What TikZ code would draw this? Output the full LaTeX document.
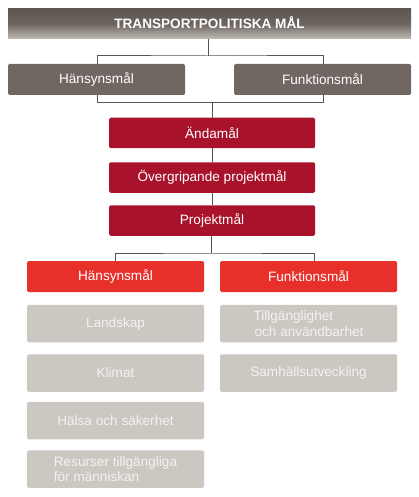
\documentclass[tikz,border=0pt]{standalone}
\usepackage{fontspec}
\setmainfont{Liberation Sans}
\definecolor{dgray}{HTML}{706762}
\definecolor{dred}{HTML}{A8132B}
\definecolor{bred}{HTML}{E8302B}
\definecolor{lgray}{HTML}{CDC7C2}
\definecolor{lgtxt}{HTML}{F4F2F0}
\definecolor{linec}{HTML}{5A5552}
\definecolor{ttop}{HTML}{5E5651}
\definecolor{tbot}{HTML}{C2BCB7}
\begin{document}
\begin{tikzpicture}[x=1pt,y=-1pt,
  every node/.style={font=\fontsize{13.6}{15.5}\selectfont},
  box/.style={rounded corners=1.5pt,inner sep=0pt,text=white,align=center},
  graybox/.style={box,fill=dgray,minimum width=177pt,minimum height=31pt},
  redbox/.style={box,fill=dred,minimum width=206pt,minimum height=30.5pt},
  brightbox/.style={box,fill=bred,minimum width=177pt,minimum height=31pt},
  lightbox/.style={box,fill=lgray,text=lgtxt,minimum width=177pt,minimum height=37.5pt},
  conn/.style={draw=linec,line width=1pt}]
\useasboundingbox (0,0) rectangle (418,497);
% title
\shade[top color=ttop,bottom color=tbot,middle color=ttop!85!tbot] (8,9) rectangle (411,39);
\node[text=white,font=\fontsize{13.6}{15.5}\selectfont\bfseries,inner sep=0pt] (title) at (209.5,23) {TRANSPORTPOLITISKA MÅL};
\coordinate (tb) at (208,39);
% level 1
\node[graybox] (h1) at (96.5,79.5) {Hänsynsmål};
\node[graybox] (f1) at (322.5,79.5) {Funktionsmål};
% red chain
\node[redbox] (a) at (212,133) {Ändamål};
\node[redbox] (o) at (212,177.5) {Övergripande projektmål};
\node[redbox] (p) at (212,220.5) {Projektmål};
% level 2
\node[brightbox] (h2) at (115.5,276.5) {Hänsynsmål};
\node[brightbox] (f2) at (308.5,276.5) {Funktionsmål};
% light boxes
\node[lightbox] (l1) at (115.5,323.5) {Landskap};
\node[lightbox] (l2) at (115.5,373) {Klimat};
\node[lightbox] (l3) at (115.5,420.5) {Hälsa och säkerhet};
\node[lightbox,align=left] (l4) at (115.5,469) {Resurser tillgängliga\\för människan};
\node[lightbox,align=left] (r1) at (308.5,323.5) {Tillgänglighet\\\hspace*{1pt}och användbarhet};
\node[lightbox] (r2) at (308.5,373) {Samhällsutveckling};
% connectors
\draw[conn] (tb) -- (208,56);
\draw[conn] (h1.north -| 97,0) |- (208,56) -| (f1.north -| 323,0);
\draw[conn] (h1.south -| 97,0) |- (212,102.5) -| (f1.south -| 323,0);
\draw[conn] (212,102.5) -- (a.north);
\draw[conn] (a.south) -- (o.north);
\draw[conn] (o.south) -- (p.north);
\draw[conn] (p.south -| 211,0) -- (211,253);
\draw[conn] (h2.north -| 115,0) |- (211,253) -| (f2.north -| 314,0);
\end{tikzpicture}
\end{document}
